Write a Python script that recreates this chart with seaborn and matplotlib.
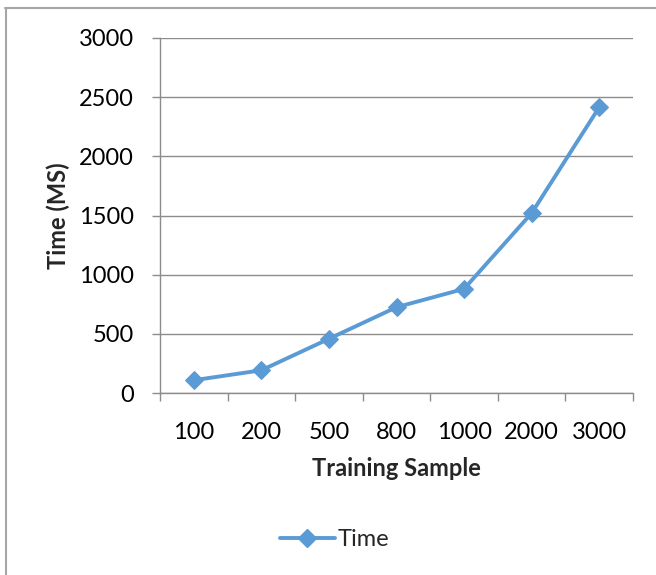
import matplotlib
matplotlib.use("Agg")
import matplotlib.pyplot as plt
from matplotlib.lines import Line2D
import seaborn as sns
import pandas as pd

# Training time measured for each training-sample size
samples = ["100", "200", "500", "800", "1000", "2000", "3000"]
time_ms = [108, 192, 458, 725, 880, 1520, 2415]
y_ticks = [0, 500, 1000, 1500, 2000, 2500, 3000]

sns.set_theme(style="white")
plt.rcParams["font.family"] = ["Lato", "DejaVu Sans"]

LINE_BLUE = "#5B9BD5"
GRID_GRAY = "#8C8C8C"
FS = 17

W, H = 656, 575
fig = plt.figure(figsize=(W / 100, H / 100), dpi=100)
ax = fig.add_axes([160 / W, (H - 393) / H, (633 - 160) / W, (393 - 38) / H])

df = pd.DataFrame({"pos": range(len(samples)), "Time": time_ms})
sns.lineplot(data=df, x="pos", y="Time", ax=ax, color=LINE_BLUE, linewidth=2.8,
             marker="D", markersize=9, markeredgecolor=LINE_BLUE, zorder=3)

ax.set_xlim(-0.5, len(samples) - 0.5)
ax.set_ylim(0, 3000)
ax.set_yticks(y_ticks)
ax.set_yticklabels([str(v) for v in y_ticks], fontsize=FS, color="black")

# category boundaries carry the tick marks, centres carry the labels
ax.set_xticks([i - 0.5 for i in range(len(samples) + 1)])
ax.set_xticklabels([])
ax.set_xticks(range(len(samples)), minor=True)
ax.set_xticklabels(samples, minor=True, fontsize=FS, color="black")
ax.tick_params(axis="x", which="major", direction="out", length=6, width=1,
               color=GRID_GRAY, bottom=True)
ax.tick_params(axis="x", which="minor", length=0, pad=21, bottom=True)
ax.tick_params(axis="y", direction="out", length=6, width=1, color=GRID_GRAY,
               left=True, pad=13)

ax.yaxis.grid(True, color=GRID_GRAY, linewidth=1)
ax.xaxis.grid(False)
for side in ["top", "right"]:
    ax.spines[side].set_visible(False)
for side in ["left", "bottom"]:
    ax.spines[side].set_color(GRID_GRAY)
    ax.spines[side].set_linewidth(1)

ax.set_xlabel("Training Sample", fontsize=FS, fontweight="bold", labelpad=10)
ax.set_ylabel("Time (MS)", fontsize=FS, fontweight="bold", labelpad=6)

handle = Line2D([], [], color=LINE_BLUE, linewidth=2.8, marker="D", markersize=9)
fig.legend([handle], ["Time"], loc="center", bbox_to_anchor=(335 / W, 1 - 540 / H),
           frameon=False, fontsize=FS, handlelength=2.3, handletextpad=0.15)

# outer chart frame
fig.add_artist(Line2D([5 / W, 1], [1 - 8 / H, 1 - 8 / H], color="#A6A6A6", linewidth=1.5,
                      transform=fig.transFigure))
fig.add_artist(Line2D([6 / W, 6 / W], [0, 1 - 8 / H], color="#A6A6A6", linewidth=1.5,
                      transform=fig.transFigure))

fig.savefig("out.png", dpi=100)
